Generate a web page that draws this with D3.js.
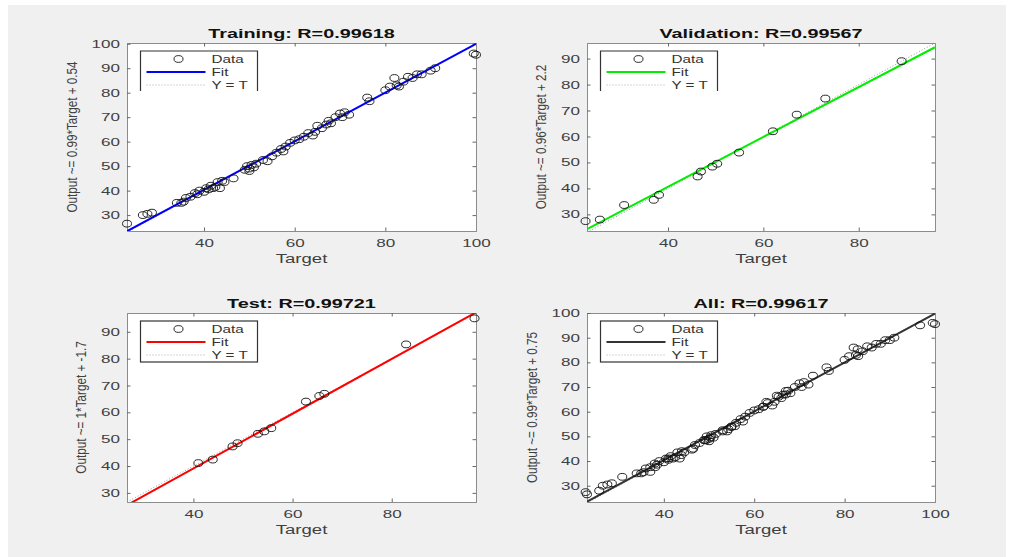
<!DOCTYPE html>
<html><head><meta charset="utf-8">
<script src="https://cdn.jsdelivr.net/npm/d3@7"></script>
<style>body{margin:0;background:#fff}svg{display:block}text{font-family:"Liberation Sans",Arial,sans-serif}</style>
</head><body><svg id="c" width="1012" height="557"></svg>
<script>
// ---- data ----
const trainTarget = [23,26.5,27.5,28.5,34,35,35.5,36,37,38,38.5,39,40,40.5,41,41.5,42,42.5,43,43.5,44,44.5,46.5,49,49.5,50,50,50.5,51,51.5,53,54,55,56,57,57.5,58,59,60,61,62,63,64,64.5,65,66,67,67.5,68,69,70,70.5,71,72,76,76.5,80,81,82,82.5,83,84,85,86,87,88,90,91,99.5,100];
const trainOutput = [26.5,30,30.5,31,35,35,35.5,37,37.5,39,38.5,40,39.5,41,40.5,42,41,41.5,43.5,41,44,43.5,45,48.5,50,49,48,50.5,49.5,51,52.5,52,54,55.5,57,56,58,59.5,60.5,61,62,63.5,62.5,64,66.5,65.5,67,68.5,67.5,70,71.5,70,72,71,78,76.5,81,82.5,86,83,82.5,84.5,86.5,86,87.5,87.5,89,90,96,95.5];
const valTarget = [22.7,25.7,30.8,37,38.1,46.2,46.9,49.3,50.3,54.9,62,67,73,89];
const valOutput = [27.4,28,33.6,35.6,37.5,44.6,46.5,48.4,49.5,53.8,62,68.4,74.6,89];
const testTarget = [41,43.9,47.9,48.9,53,54.3,55.7,62.7,65.4,66.4,82.9,96.7];
const testOutput = [41.1,42.4,47.3,48.5,52,52.9,54.1,64,66.1,66.9,85.3,95];
const titles = ["Training: R=0.99618","Validation: R=0.99567","Test: R=0.99721","All: R=0.99617"];
const yLabels = ["Output ~= 0.99*Target + 0.54","Output ~= 0.96*Target + 2.2","Output ~= 1*Target + -1.7","Output ~= 0.99*Target + 0.75"];
const xLabel = "Target";
const legendLabels = ["Data","Fit","Y = T"];
const fitSlope = [0.994,0.96,1.02,0.99];
const fitIntercept = [0.54,2.2,-1.7,0.75];
const xTickVals = [[40,60,80,100],[40,60,80],[40,60,80],[40,60,80,100]];
const yTickVals = [[30,40,50,60,70,80,90,100],[30,40,50,60,70,80,90],[30,40,50,60,70,80,90],[30,40,50,60,70,80,90,100]];
const xDomains = [[23,100],[23,96],[26.6,97],[23,100]];
const yDomains = [[23.5,100.3],[23.6,96],[26.6,97],[23.4,100]];

const allTarget = trainTarget.concat(valTarget, testTarget);
const allOutput = trainOutput.concat(valOutput, testOutput);
const seriesT = [trainTarget, valTarget, testTarget, allTarget];
const seriesO = [trainOutput, valOutput, testOutput, allOutput];

// ---- layout / style ----
const boxes = [[127,43,476,231],[587,43,935,231],[127,313,476,502],[587,313,935,502]];
const fitColors = ["#0000ff","#00ee00","#ff0000","#333333"];
const legendClipped = [true,true,false,false];

const svg = d3.select("#c");
svg.append("rect").attr("x",8).attr("y",5).attr("width",998).attr("height",552).attr("fill","#f0f0f0");

function stretch(sel,k){ sel.each(function(){ const l=this.getComputedTextLength(); this.setAttribute("textLength",l*k); this.setAttribute("lengthAdjust","spacingAndGlyphs"); }); }

for (let i=0;i<4;i++){
  const [x0,y0,x1,y1] = boxes[i];
  const xs = d3.scaleLinear().domain(xDomains[i]).range([x0,x1]);
  const ys = d3.scaleLinear().domain(yDomains[i]).range([y1,y0]);
  const g = svg.append("g");
  const cid = "clip"+i;
  svg.append("clipPath").attr("id",cid).append("rect").attr("x",x0).attr("y",y0).attr("width",x1-x0).attr("height",y1-y0);
  g.append("rect").attr("x",x0).attr("y",y0).attr("width",x1-x0).attr("height",y1-y0).attr("fill","#fff");

  const tk = 3.5;
  const axB = g.append("g").attr("transform",`translate(0,${y1})`).call(d3.axisBottom(xs).tickValues(xTickVals[i]).tickSize(-tk).tickPadding(8));
  const axT = g.append("g").attr("transform",`translate(0,${y0})`).call(d3.axisTop(xs).tickValues(xTickVals[i]).tickSize(-tk).tickFormat(""));
  const axL = g.append("g").attr("transform",`translate(${x0},0)`).call(d3.axisLeft(ys).tickValues(yTickVals[i]).tickSize(-tk).tickPadding(7));
  const axR = g.append("g").attr("transform",`translate(${x1},0)`).call(d3.axisRight(ys).tickValues(yTickVals[i]).tickSize(-tk).tickFormat(""));
  [axB,axT,axL,axR].forEach(a=>{ a.select(".domain").attr("stroke","#8c8c8c"); a.selectAll(".tick line").attr("stroke","#666"); a.selectAll("text").attr("fill","#404040").attr("font-size","11px").attr("font-family","Liberation Sans, Arial, sans-serif"); });
  stretch(axB.selectAll("text"),1.55);
  stretch(axL.selectAll("text"),1.55);

  const pg = g.append("g").attr("clip-path",`url(#${cid})`);
  pg.append("line").attr("x1",xs(xDomains[i][0])).attr("y1",ys(xDomains[i][0])).attr("x2",xs(xDomains[i][1])).attr("y2",ys(xDomains[i][1]))
    .attr("stroke","#9a9a9a").attr("stroke-width",1).attr("stroke-dasharray","1,2");
  const fx = xDomains[i];
  pg.append("line").attr("x1",xs(fx[0])).attr("y1",ys(fitSlope[i]*fx[0]+fitIntercept[i])).attr("x2",xs(fx[1])).attr("y2",ys(fitSlope[i]*fx[1]+fitIntercept[i]))
    .attr("stroke",fitColors[i]).attr("stroke-width",2);
  g.append("g").selectAll("ellipse").data(d3.range(seriesT[i].length)).join("ellipse")
    .attr("cx",k=>xs(seriesT[i][k])).attr("cy",k=>ys(seriesO[i][k])).attr("rx",4.5).attr("ry",3.4)
    .attr("fill","none").attr("stroke","#111").attr("stroke-width",0.9);

  const tt = g.append("text").attr("x",(x0+x1)/2).attr("y",y0-5).attr("text-anchor","middle").attr("font-size","12px").attr("font-weight","bold").attr("fill","#111").text(titles[i]);
  stretch(tt,1.65);
  const xl = g.append("text").attr("x",(x0+x1)/2).attr("y",y1+32).attr("text-anchor","middle").attr("font-size","12px").attr("fill","#404040").text(xLabel);
  stretch(xl,1.55);
  const maxTickW = d3.max(axL.selectAll("text").nodes(), n=>n.getBBox().width);
  const ylx = x0 - 7 - maxTickW - 15;
  const yl = g.append("text").attr("transform",`translate(${ylx},${(y0+y1)/2}) rotate(-90)`).attr("text-anchor","middle").attr("font-size","15px").attr("fill","#404040").text(yLabels[i]);
  stretch(yl,0.78);

  const L = x0+13.5, Tp = y0+8, LW = 117, LH = 41;
  const lg = g.append("g");
  lg.append("rect").attr("x",L).attr("y",Tp).attr("width",LW).attr("height",legendClipped[i]?LH-1:LH).attr("fill","#fff").attr("stroke","none");
  if (legendClipped[i]) {
    lg.append("path").attr("d",`M${L},${Tp+LH-1}V${Tp}H${L+LW}V${Tp+LH-1}`).attr("fill","none").attr("stroke","#333").attr("stroke-width",1.2);
  } else {
    lg.append("rect").attr("x",L).attr("y",Tp).attr("width",LW).attr("height",LH).attr("fill","none").attr("stroke","#333").attr("stroke-width",1.2);
  }
  lg.append("ellipse").attr("cx",L+38).attr("cy",Tp+8).attr("rx",4.5).attr("ry",3.4).attr("fill","none").attr("stroke","#111").attr("stroke-width",0.9);
  lg.append("line").attr("x1",L+6).attr("x2",L+65).attr("y1",Tp+21).attr("y2",Tp+21).attr("stroke",fitColors[i]).attr("stroke-width",2);
  lg.append("line").attr("x1",L+6).attr("x2",L+65).attr("y1",Tp+34).attr("y2",Tp+34).attr("stroke","#aaa").attr("stroke-width",1).attr("stroke-dasharray","1,2");
  legendLabels.forEach((s,k)=>{
    const t = lg.append("text").attr("x",L+71).attr("y",Tp+12+k*13).attr("font-size","10.5px").attr("fill","#333").text(s);
    stretch(t,1.45);
  });
}
</script></body></html>
